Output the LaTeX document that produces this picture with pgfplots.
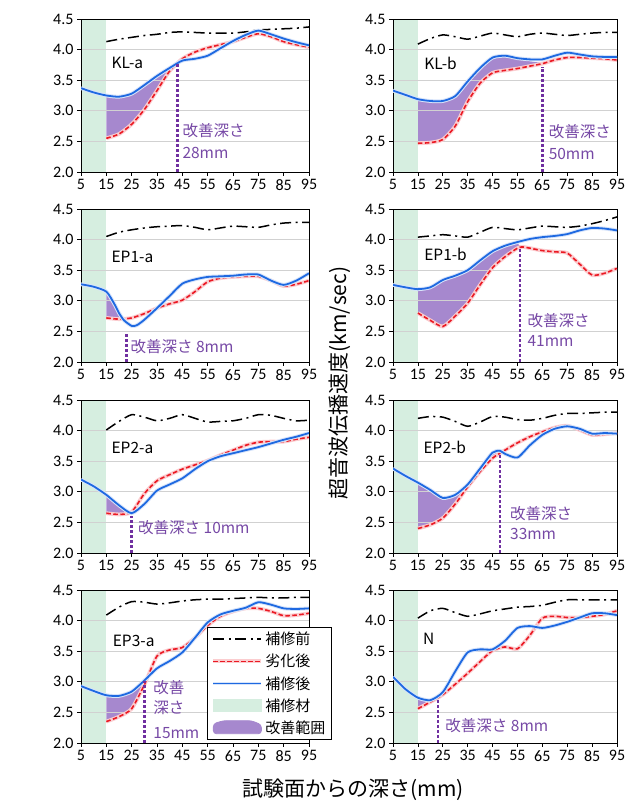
\documentclass[border=0pt]{standalone}
\usepackage{fontspec}
\setmainfont{Carlito}
\newfontfamily\cjk{Noto Sans CJK JP}
\usepackage{pgfplots}
\usepackage{pgfplotstable}
\pgfplotsset{compat=1.18}

\definecolor{band}{RGB}{214,238,224}
\definecolor{impfill}{RGB}{166,136,206}
\definecolor{imptext}{RGB}{118,72,165}
\definecolor{impline}{RGB}{112,48,160}
\definecolor{repblue}{RGB}{30,105,225}
\definecolor{degred}{RGB}{235,25,35}

% ---------------- data (x = depth mm, y = velocity km/sec) ----------------
% KL-a
\pgfplotstableread{
x y
15 4.13
20 4.17
25 4.20
30 4.23
35 4.25
40 4.28
45 4.29
50 4.28
55 4.27
60 4.27
65 4.27
70 4.29
75 4.32
80 4.33
85 4.34
90 4.35
95 4.37
}\KLaP
\pgfplotstableread{
x y
15 2.55
20 2.62
25 2.78
30 3.02
35 3.33
40 3.65
45 3.85
50 3.96
55 4.03
60 4.08
65 4.13
70 4.20
75 4.26
80 4.21
85 4.13
90 4.08
95 4.04
}\KLaD
\pgfplotstableread{
x y
5 3.37
10 3.30
15 3.25
20 3.23
25 3.28
30 3.42
35 3.57
40 3.70
45 3.82
50 3.85
55 3.90
60 4.02
65 4.14
70 4.24
75 4.31
80 4.25
85 4.18
90 4.12
95 4.07
}\KLaR
% KL-b
\pgfplotstableread{
x y
15 4.09
20 4.18
25 4.24
30 4.21
35 4.17
40 4.22
45 4.27
50 4.24
55 4.21
60 4.25
65 4.27
70 4.25
75 4.23
80 4.25
85 4.27
90 4.28
95 4.28
}\KLbP
\pgfplotstableread{
x y
15 2.47
20 2.48
25 2.53
30 2.75
35 3.15
40 3.45
45 3.62
50 3.66
55 3.69
60 3.73
65 3.77
70 3.83
75 3.87
80 3.87
85 3.86
90 3.85
95 3.83
}\KLbD
\pgfplotstableread{
x y
5 3.33
10 3.26
15 3.19
20 3.16
25 3.16
30 3.24
35 3.48
40 3.70
45 3.87
50 3.90
55 3.86
60 3.84
65 3.84
70 3.90
75 3.95
80 3.92
85 3.89
90 3.88
95 3.88
}\KLbR
% EP1-a
\pgfplotstableread{
x y
15 4.05
20 4.12
25 4.16
30 4.19
35 4.21
40 4.22
45 4.23
50 4.20
55 4.16
60 4.19
65 4.22
70 4.21
75 4.20
80 4.24
85 4.27
90 4.28
95 4.28
}\EPaP
\pgfplotstableread{
x y
15 2.72
20 2.70
25 2.72
30 2.79
35 2.88
40 2.95
45 3.01
50 3.15
55 3.31
60 3.37
65 3.39
70 3.40
75 3.40
80 3.33
85 3.24
90 3.27
95 3.33
}\EPaD
\pgfplotstableread{
x y
5 3.27
10 3.23
15 3.15
18 2.96
20 2.80
22 2.68
25 2.59
27 2.60
30 2.69
35 2.88
40 3.08
45 3.28
50 3.35
55 3.39
60 3.40
65 3.41
70 3.43
75 3.43
80 3.33
85 3.26
90 3.33
95 3.45
}\EPaR
% EP1-b
\pgfplotstableread{
x y
15 4.04
20 4.06
25 4.08
30 4.06
35 4.04
40 4.12
45 4.20
50 4.18
55 4.16
60 4.19
65 4.22
70 4.21
75 4.20
80 4.22
85 4.26
90 4.31
95 4.37
}\EPbP
\pgfplotstableread{
x y
15 2.80
20 2.68
25 2.58
30 2.75
35 2.96
40 3.26
45 3.54
50 3.72
55 3.86
57 3.88
60 3.86
65 3.82
70 3.80
75 3.78
80 3.60
85 3.42
90 3.45
95 3.53
}\EPbD
\pgfplotstableread{
x y
5 3.26
10 3.22
15 3.19
20 3.22
25 3.34
30 3.41
35 3.50
40 3.66
45 3.81
50 3.90
55 3.96
60 4.01
65 4.04
70 4.06
75 4.09
80 4.15
85 4.19
90 4.18
95 4.15
}\EPbR
% EP2-a
\pgfplotstableread{
x y
15 4.01
20 4.15
25 4.26
30 4.22
35 4.16
40 4.20
45 4.26
50 4.20
55 4.14
60 4.15
65 4.16
70 4.20
75 4.26
80 4.25
85 4.20
90 4.16
95 4.17
}\EPcP
\pgfplotstableread{
x y
15 2.65
20 2.63
25 2.67
30 2.97
35 3.18
40 3.28
45 3.37
50 3.44
55 3.51
60 3.60
65 3.68
70 3.76
75 3.81
80 3.82
85 3.82
90 3.86
95 3.89
}\EPcD
\pgfplotstableread{
x y
5 3.20
10 3.09
15 2.95
20 2.78
25 2.65
30 2.80
35 3.02
40 3.12
45 3.22
50 3.37
55 3.50
60 3.58
65 3.63
70 3.68
75 3.73
80 3.79
85 3.85
90 3.90
95 3.96
}\EPcR
% EP2-b
\pgfplotstableread{
x y
15 4.20
20 4.23
25 4.22
30 4.15
35 4.07
40 4.14
45 4.23
50 4.22
55 4.18
60 4.17
65 4.20
70 4.25
75 4.28
80 4.28
85 4.29
90 4.30
95 4.30
}\EPdP
\pgfplotstableread{
x y
15 2.40
20 2.46
25 2.57
30 2.80
35 3.08
40 3.33
45 3.55
50 3.68
55 3.80
60 3.90
65 3.98
70 4.05
75 4.08
80 4.01
85 3.93
90 3.94
95 3.96
}\EPdD
\pgfplotstableread{
x y
5 3.38
10 3.26
15 3.15
20 3.03
25 2.90
30 2.95
35 3.12
40 3.38
45 3.64
48 3.67
50 3.62
55 3.56
60 3.76
65 3.93
70 4.03
75 4.07
80 4.03
85 3.95
90 3.96
95 3.95
}\EPdR
% EP3-a
\pgfplotstableread{
x y
15 4.09
20 4.22
25 4.31
30 4.30
35 4.27
40 4.29
45 4.32
50 4.34
55 4.35
60 4.35
65 4.36
70 4.37
75 4.38
80 4.37
85 4.37
90 4.38
95 4.38
}\EPeP
\pgfplotstableread{
x y
15 2.35
20 2.43
25 2.56
30 2.95
35 3.42
40 3.52
45 3.56
50 3.72
55 3.92
60 4.07
65 4.15
70 4.20
75 4.20
80 4.15
85 4.08
90 4.09
95 4.12
}\EPeD
\pgfplotstableread{
x y
5 2.93
10 2.85
15 2.78
20 2.77
25 2.84
30 3.02
35 3.22
40 3.34
45 3.48
50 3.72
55 3.97
60 4.10
65 4.16
70 4.21
75 4.30
80 4.26
85 4.20
90 4.19
95 4.20
}\EPeR
% N
\pgfplotstableread{
x y
15 4.04
20 4.16
25 4.20
30 4.13
35 4.07
40 4.11
45 4.16
50 4.19
55 4.22
60 4.23
65 4.25
70 4.30
75 4.34
80 4.34
85 4.34
90 4.34
95 4.34
}\NP
\pgfplotstableread{
x y
15 2.56
20 2.67
25 2.79
30 2.96
35 3.14
40 3.33
45 3.51
50 3.57
55 3.54
60 3.76
65 4.04
70 4.07
75 4.05
80 4.05
85 4.07
90 4.10
95 4.16
}\ND
\pgfplotstableread{
x y
5 3.08
10 2.88
15 2.74
20 2.70
25 2.83
30 3.17
35 3.48
40 3.53
45 3.53
50 3.67
55 3.88
60 3.91
65 3.88
70 3.92
75 3.98
80 4.05
85 4.12
90 4.12
95 4.09
}\NR

\pgfplotsset{
  layers/mylayers/.define layer set={axis background,axis grid,pre main,main,axis ticks,axis lines,axis tick labels,axis descriptions,axis foreground}{},
  panel/.style={
    set layers=mylayers,
    scale only axis, width=228pt, height=153pt,
    xmin=5, xmax=95, ymin=2, ymax=4.5,
    xtick={5,15,25,35,45,55,65,75,85,95},
    ytick={2,2.5,3,3.5,4,4.5},
    ymajorgrids, grid style={black!18, line width=0.7pt},
    tick align=outside, major tick length=4pt,
    tick style={black, line width=0.7pt},
    xtick pos=bottom, ytick pos=left,
    axis line style={black, line width=0.9pt},
    tick label style={font=\fontsize{16}{16}\selectfont},
    /pgf/number format/assume math mode=true,
    yticklabel style={/pgf/number format/fixed, /pgf/number format/fixed zerofill, /pgf/number format/precision=1},
  },
  pre/.style={black, line width=1.5pt, dash pattern=on 11pt off 4.5pt on 2pt off 4.5pt, smooth, tension=0.4},
  deg/.style={degred, line width=1.6pt, dash pattern=on 4.5pt off 2.5pt, smooth, tension=0.4,
              preaction={draw=degred!22, solid, line width=3.8pt}},
  rep/.style={repblue, line width=1.8pt, smooth, tension=0.4,
              preaction={draw=repblue!18, solid, line width=3.8pt}},
  impv/.style={impline, line width=2.6pt, dash pattern=on 2.6pt off 2.4pt},
  impa/.style={fill=impfill, draw=none, on layer=pre main, forget plot},
}
\tikzset{
  lab/.style={anchor=west, inner sep=0pt, font=\cjk\fontsize{15.5}{16}\selectfont},
  imp/.style={anchor=west, inner sep=0pt, text=imptext, font=\cjk\fontsize{15.5}{16}\selectfont},
}

% #1 before, #2 degraded, #3 repaired, #4 depth x, #5 top y
\newcommand\panelplots[5]{%
  \addplot[draw=none, fill=band, on layer=pre main, forget plot] coordinates {(5,2) (15,2) (15,4.5) (5,4.5)} -- cycle;
  \addplot[pre, forget plot] table {#1};
  \addplot[deg, forget plot] table {#2};
  \addplot[rep, forget plot] table {#3};
  \addplot[impv, forget plot] coordinates {(#4,2) (#4,#5)};
}

\begin{document}
\begin{tikzpicture}

% ---- row 1
\begin{axis}[panel, at={(81pt,784pt)}, anchor=north west]
\addplot[impa] coordinates {(15,3.25) (20,3.23) (25,3.28) (30,3.42) (35,3.57) (40,3.70) (43,3.77)
  (40,3.65) (35,3.33) (30,3.02) (25,2.78) (20,2.62) (15,2.55)} -- cycle;
\panelplots{\KLaP}{\KLaD}{\KLaR}{43}{3.76}
\node[lab] at (axis cs:17,3.78) {KL-a};
\node[imp] at (axis cs:45,2.68) {改善深さ};
\node[imp] at (axis cs:45,2.31) {28mm};
\end{axis}

\begin{axis}[panel, width=224pt, at={(393pt,784pt)}, anchor=north west]
\addplot[impa] coordinates {(15,3.19) (20,3.16) (25,3.16) (30,3.24) (35,3.48) (40,3.70) (45,3.86) (50,3.88) (55,3.84) (60,3.81) (65,3.78)
  (65,3.77) (60,3.73) (55,3.69) (50,3.66) (45,3.62) (40,3.45) (35,3.15) (30,2.75) (25,2.53) (20,2.48) (15,2.47)} -- cycle;
\panelplots{\KLbP}{\KLbD}{\KLbR}{65}{3.72}
\node[lab] at (axis cs:17.5,3.77) {KL-b};
\node[imp] at (axis cs:67.5,2.66) {改善深さ};
\node[imp] at (axis cs:67.5,2.30) {50mm};
\end{axis}

% ---- row 2
\begin{axis}[panel, at={(81pt,594pt)}, anchor=north west]
\addplot[impa] coordinates {(15,3.15) (18,2.96) (20,2.80) (22,2.70) (22.6,2.71) (20,2.70) (15,2.72)} -- cycle;
\panelplots{\EPaP}{\EPaD}{\EPaR}{23}{2.45}
\node[lab] at (axis cs:17,3.72) {EP1-a};
\node[imp] at (axis cs:24.5,2.25) {改善深さ 8mm};
\end{axis}

\begin{axis}[panel, width=224pt, at={(393pt,594pt)}, anchor=north west]
\addplot[impa] coordinates {(15,3.19) (20,3.22) (25,3.34) (30,3.41) (35,3.50) (40,3.66) (45,3.81) (50,3.90) (55,3.94) (56,3.90)
  (55,3.86) (50,3.72) (45,3.54) (40,3.26) (35,2.96) (30,2.75) (25,2.58) (20,2.68) (15,2.80)} -- cycle;
\panelplots{\EPbP}{\EPbD}{\EPbR}{56}{3.87}
\node[lab] at (axis cs:17.5,3.76) {EP1-b};
\node[imp] at (axis cs:59,2.68) {改善深さ};
\node[imp] at (axis cs:59,2.35) {41mm};
\end{axis}

% ---- row 3
\begin{axis}[panel, at={(81pt,403pt)}, anchor=north west]
\addplot[impa] coordinates {(15,2.95) (20,2.78) (24,2.67) (20,2.63) (15,2.65)} -- cycle;
\panelplots{\EPcP}{\EPcD}{\EPcR}{25}{2.6}
\node[lab] at (axis cs:17,3.71) {EP2-a};
\node[imp] at (axis cs:27.5,2.42) {改善深さ 10mm};
\end{axis}

\begin{axis}[panel, width=224pt, at={(393pt,403pt)}, anchor=north west]
\addplot[impa] coordinates {(15,3.15) (20,3.03) (25,2.90) (30,2.95) (35,3.12) (40,3.38) (45,3.63) (47,3.64)
  (47,3.61) (45,3.55) (40,3.33) (35,3.08) (30,2.80) (25,2.57) (20,2.46) (15,2.40)} -- cycle;
\panelplots{\EPdP}{\EPdD}{\EPdR}{48}{3.62}
\node[lab] at (axis cs:17.2,3.72) {EP2-b};
\node[imp] at (axis cs:52,2.65) {改善深さ};
\node[imp] at (axis cs:52,2.31) {33mm};
\end{axis}

% ---- row 4
\begin{axis}[panel, at={(81pt,213pt)}, anchor=north west,
  legend style={at={(0.553,0.76)}, anchor=north west, draw=black, line width=0.8pt, fill=white,
    font=\cjk\fontsize{15}{15}\selectfont, row sep=4pt, inner xsep=4pt, inner ysep=3pt},
  legend cell align=left]
\addplot[impa] coordinates {(15,2.78) (20,2.77) (25,2.84) (29.7,3.00) (25,2.56) (20,2.43) (15,2.35)} -- cycle;
\panelplots{\EPeP}{\EPeD}{\EPeR}{30}{3.02}
\node[lab] at (axis cs:17.5,3.66) {EP3-a};
\node[imp] at (axis cs:33.5,2.90) {改善};
\node[imp] at (axis cs:33.5,2.58) {深さ};
\node[imp] at (axis cs:33.5,2.17) {15mm};
\addlegendimage{legend image code/.code={\draw[black, line width=1.5pt, dash pattern=on 11pt off 4.5pt on 2pt off 4.5pt] (0pt,0pt) -- (48pt,0pt);}}
\addlegendentry{補修前}
\addlegendimage{legend image code/.code={\draw[degred!22, line width=3.8pt] (0pt,0pt) -- (48pt,0pt); \draw[degred, line width=1.6pt, dash pattern=on 4.5pt off 2.5pt] (0pt,0pt) -- (48pt,0pt);}}
\addlegendentry{劣化後}
\addlegendimage{legend image code/.code={\draw[repblue!18, line width=3.8pt] (0pt,0pt) -- (48pt,0pt); \draw[repblue, line width=1.8pt] (0pt,0pt) -- (48pt,0pt);}}
\addlegendentry{補修後}
\addlegendimage{legend image code/.code={\fill[band] (0pt,-6pt) rectangle (48pt,6pt);}}
\addlegendentry{補修材}
\addlegendimage{legend image code/.code={\fill[impfill, rounded corners=3pt] (0pt,-6pt) -- (0pt,4pt) -- (10pt,7pt) -- (38pt,7pt) -- (48pt,3pt) -- (48pt,-6pt) -- cycle;}}
\addlegendentry{改善範囲}
\end{axis}

\begin{axis}[panel, width=224pt, at={(393pt,213pt)}, anchor=north west]
\addplot[impa] coordinates {(15,2.74) (20,2.70) (23,2.76) (20,2.67) (15,2.56)} -- cycle;
\panelplots{\NP}{\ND}{\NR}{23}{2.72}
\node[lab] at (axis cs:17,3.71) {N};
\node[imp] at (axis cs:26,2.29) {改善深さ 8mm};
\end{axis}

% ---- shared labels
\node[rotate=90, font=\cjk\fontsize{21}{21}\selectfont] at (340pt,420pt) {超音波伝播速度(km/sec)};
\node[font=\cjk\fontsize{21}{21}\selectfont] at (353pt,13pt) {試験面からの深さ(mm)};

\pgfresetboundingbox
\path[use as bounding box] (0pt,0pt) rectangle (624pt,803pt);
\end{tikzpicture}
\end{document}
